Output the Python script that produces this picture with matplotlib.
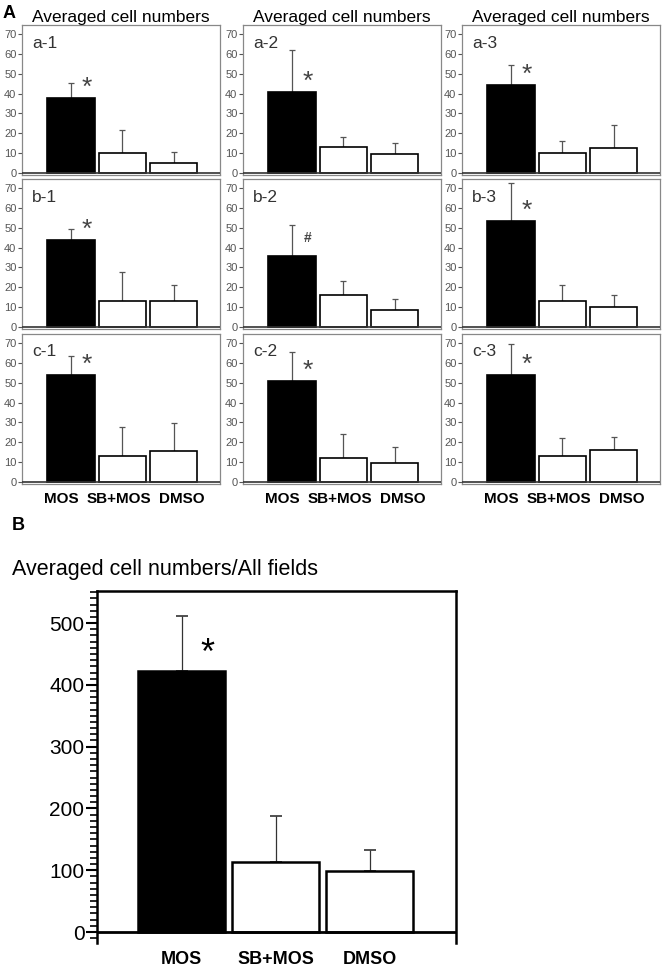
import matplotlib
matplotlib.use("Agg")
import matplotlib.pyplot as plt
from matplotlib.ticker import MultipleLocator

plt.rcParams['font.family'] = ['Liberation Sans', 'DejaVu Sans']

# group names
categories = ["MOS", "SB+MOS", "DMSO"]

# panel A: 3x3 grid of field counts (mean, SD)
panel_labels = ["a-1", "a-2", "a-3", "b-1", "b-2", "b-3", "c-1", "c-2", "c-3"]
panel_means = [
    [38, 10, 5], [41, 13, 9.5], [44.5, 10, 12.5],
    [44, 13, 13], [36, 16, 8.5], [53.5, 13, 10],
    [54, 13, 15.5], [51, 12, 9.5], [54, 13, 16],
]
panel_sds = [
    [7.5, 11.5, 5.5], [21, 5, 5.5], [10, 6, 11.5],
    [5.5, 14.5, 8], [15.5, 7, 5.5], [19, 8, 6],
    [9.5, 14.5, 14], [14.5, 12, 8], [15.5, 9, 6.5],
]
panel_marks = ["*", "*", "*", "*", "#", "*", "*", "*", "*"]

# panel B: all fields
all_means = [422, 113, 99]
all_sds = [89, 75, 34]

W, H = 662, 969
fig = plt.figure(figsize=(W / 100, H / 100), dpi=100)

col_left = [22, 243, 462]
col_w = 198
row_top = [25, 179, 334]
row_h = 150
x = list(range(len(categories)))
colors = ["black", "white", "white"]
# labels under the small panels sit a bit wider apart than the bars
label_shift = [-0.18, -0.06, 0.15]

for i, lab in enumerate(panel_labels):
    r, c = divmod(i, 3)
    ax = fig.add_axes([col_left[c] / W, 1 - (row_top[r] + row_h) / H, col_w / W, row_h / H])
    ax.bar(x, panel_means[i], width=0.92, color=colors, edgecolor="black", linewidth=1.2, zorder=2)
    ax.errorbar(x, panel_means[i], yerr=[[0, 0, 0], panel_sds[i]], fmt="none",
                ecolor="#555555", elinewidth=0.9, capsize=2.5, capthick=0.9, zorder=1)
    ax.axhline(0, color="#333333", lw=1.2, zorder=3)
    ax.set_xlim(-0.95, 2.9)
    ax.set_ylim(-1, 74.6)
    ax.set_yticks(range(0, 71, 10))
    ax.tick_params(axis="y", labelsize=8, labelcolor="#555555", color="#555555",
                   length=3, width=0.8, pad=1)
    for s in ax.spines.values():
        s.set_color("#888888")
        s.set_linewidth(0.9)
    ax.text(0.05, 0.88, lab, transform=ax.transAxes, fontsize=12.5, color="#333333", va="center")
    if panel_marks[i] == "*":
        ax.text(0.3, panel_means[i][0] + 5, "*", fontsize=19, ha="center", va="center", color="#444444")
    else:
        ax.text(0.3, panel_means[i][0] + 9, "#", fontsize=10, ha="center", va="center",
                color="#444444", fontweight="bold")
    if r == 2:
        ax.set_xticks([xi + d for xi, d in zip(x, label_shift)])
        ax.set_xticklabels(categories, fontsize=11, fontweight="bold")
        ax.tick_params(axis="x", length=0, pad=6)
    else:
        ax.set_xticks([])
    if r == 0:
        ax.set_title("Averaged cell numbers", fontsize=12.5, pad=2)

fig.text(3 / W, 1 - 14 / H, "A", fontsize=13, fontweight="bold", va="center")
fig.text(12 / W, 1 - 525 / H, "B", fontsize=13, fontweight="bold", va="center")
fig.text(12 / W, 1 - 570 / H, "Averaged cell numbers/All fields", fontsize=15.5, va="center")

# panel B
axb = fig.add_axes([97 / W, 1 - 943 / H, 359 / W, (943 - 591) / H])
axb.bar(x, all_means, width=0.925, color=colors, edgecolor="black", linewidth=1.8, zorder=2)
axb.errorbar(x, all_means, yerr=[[0, 0, 0], all_sds], fmt="none",
             ecolor="#333333", elinewidth=0.9, capsize=4, capthick=1.2, zorder=1)
axb.axhline(0, color="black", lw=2, zorder=3)
axb.text(0.27, 450, "*", fontsize=26, ha="center", va="center")
axb.set_xlim(-0.9, 2.915)
axb.set_ylim(-17.8, 552)
axb.spines["bottom"].set_visible(False)
for s in ["left", "top", "right"]:
    axb.spines[s].set_linewidth(1.8)
axb.yaxis.set_major_locator(MultipleLocator(100))
axb.yaxis.set_minor_locator(MultipleLocator(10))
axb.set_yticks(range(0, 501, 100))
axb.tick_params(axis="y", which="major", labelsize=15, length=8, width=1.5, pad=1)
axb.tick_params(axis="y", which="minor", length=5, width=1.2)
axb.set_xticks(x)
axb.set_xticklabels(categories, fontsize=13, fontweight="bold")
axb.tick_params(axis="x", length=0, pad=6)

fig.savefig("out.png", dpi=100)
